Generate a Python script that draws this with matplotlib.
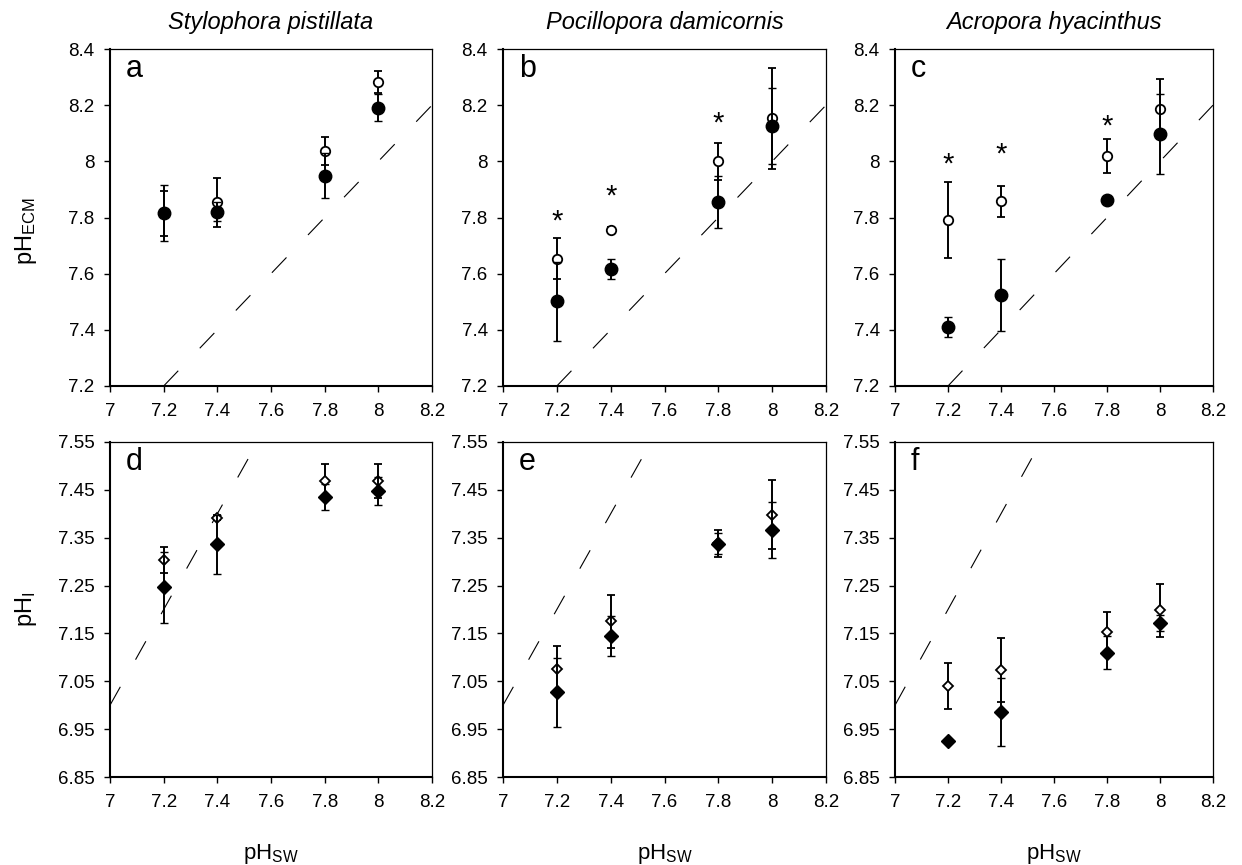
import matplotlib
matplotlib.use("Agg")
import matplotlib.pyplot as plt
from matplotlib.ticker import FixedLocator, FuncFormatter

plt.rcParams['font.family'] = ['Liberation Sans', 'DejaVu Sans']
plt.rcParams['mathtext.default'] = 'regular'

# ── data ────────────────────────────────────────────────────────────────────
SPECIES = ["Stylophora pistillata", "Pocillopora damicornis", "Acropora hyacinthus"]
PH_SW = [7.2, 7.4, 7.8, 8.0]

# top row: pH of the ECM (open / filled symbols), symmetric error bars
ECM_OPEN = [[7.815, 7.854, 8.037, 8.282],
            [7.654, 7.757, 8.000, 8.153],
            [7.791, 7.857, 8.019, 8.186]]
ECM_OPEN_ERR = [[0.080, 0.088, 0.050, 0.040],
                [0.074, 0.010, 0.066, 0.180],
                [0.134, 0.055, 0.062, 0.107]]
ECM_FILL = [[7.817, 7.821, 7.949, 8.191],
            [7.501, 7.617, 7.855, 8.125],
            [7.411, 7.524, 7.862, 8.098]]
ECM_FILL_ERR = [[0.100, 0.035, 0.081, 0.048],
                [0.142, 0.037, 0.092, 0.136],
                [0.036, 0.128, 0.000, 0.143]]
# significance asterisks (x, y) per panel
ECM_STAR_X = [[], [7.2, 7.4, 7.8], [7.2, 7.4, 7.8]]
ECM_STAR_Y = [[], [7.81, 7.90, 8.16], [8.014, 8.049, 8.15]]

# bottom row: intracellular pH
PHI_OPEN = [[7.304, 7.392, 7.468, 7.468],
            [7.076, 7.175, 7.338, 7.398],
            [7.041, 7.073, 7.153, 7.198]]
PHI_OPEN_ERR = [[0.027, 0.005, 0.035, 0.035],
                [0.048, 0.055, 0.029, 0.072],
                [0.048, 0.067, 0.041, 0.055]]
PHI_FILL = [[7.246, 7.336, 7.435, 7.448],
            [7.027, 7.145, 7.337, 7.366],
            [6.925, 6.986, 7.110, 7.172]]
PHI_FILL_ERR = [[0.074, 0.061, 0.027, 0.029],
                [0.072, 0.042, 0.022, 0.058],
                [0.003, 0.071, 0.034, 0.016]]

X_TICKS = [7.0, 7.2, 7.4, 7.6, 7.8, 8.0, 8.2]
ECM_TICKS = [7.2, 7.4, 7.6, 7.8, 8.0, 8.2, 8.4]
PHI_TICKS = [6.85, 6.95, 7.05, 7.15, 7.25, 7.35, 7.45, 7.55]
LETTERS = ["a", "b", "c", "d", "e", "f"]

# ── layout (pixel boxes of the original, converted to figure fractions) ─────
W, H = 1242, 865
COLS = [(110, 432), (503, 826), (895, 1213)]
ROWS = [(49, 386), (442, 777)]

fig = plt.figure(figsize=(W / 100, H / 100), dpi=100)


def style_axes(ax, yticks, yfmt):
    ax.set_xlim(X_TICKS[0], X_TICKS[-1])
    ax.set_ylim(yticks[0], yticks[-1])
    ax.xaxis.set_major_locator(FixedLocator(X_TICKS))
    ax.yaxis.set_major_locator(FixedLocator(yticks))
    ax.xaxis.set_major_formatter(FuncFormatter(lambda v, p: f"{v:g}"))
    ax.yaxis.set_major_formatter(FuncFormatter(lambda v, p: yfmt.format(v) if yfmt else f"{v:g}"))
    ax.tick_params(direction="out", length=4, width=1.0, labelsize=13.5,
                   top=False, right=False)
    ax.tick_params(axis="x", pad=8)
    ax.tick_params(axis="y", pad=7)
    for s in ("left", "bottom"):
        ax.spines[s].set_linewidth(1.5)
    for s in ("top", "right"):
        ax.spines[s].set_linewidth(0.9)


def identity_line(ax):
    lo = max(ax.get_xlim()[0], ax.get_ylim()[0])
    hi = min(ax.get_xlim()[1], ax.get_ylim()[1])
    ax.plot([lo, hi], [lo, hi], color="black", lw=0.8,
            linestyle=(0, (19, 28)), zorder=1)


def draw_points(ax, y_open, e_open, y_fill, e_fill, marker, ms_open, ms_fill):
    ax.errorbar(PH_SW, y_open, yerr=e_open, fmt=marker, ms=ms_open,
                mfc="white", mec="black", mew=1.3, ecolor="black",
                elinewidth=1.4, capsize=3, capthick=1.4, zorder=3)
    ax.errorbar(PH_SW, y_fill, yerr=e_fill, fmt=marker, ms=ms_fill,
                mfc="black", mec="black", mew=1.0, ecolor="black",
                elinewidth=1.4, capsize=3, capthick=1.4, zorder=4)


for row in range(2):
    for col in range(3):
        x0, x1 = COLS[col]
        y0, y1 = ROWS[row]
        ax = fig.add_axes([x0 / W, 1 - y1 / H, (x1 - x0) / W, (y1 - y0) / H])
        if row == 0:
            style_axes(ax, ECM_TICKS, None)
            identity_line(ax)
            draw_points(ax, ECM_OPEN[col], ECM_OPEN_ERR[col],
                        ECM_FILL[col], ECM_FILL_ERR[col], "o", 6.8, 9.0)
            for sx, sy in zip(ECM_STAR_X[col], ECM_STAR_Y[col]):
                ax.annotate("*", (sx, sy), xytext=(0, -11), textcoords="offset points",
                            ha="center", va="baseline", fontsize=21)
            ax.text(0.5, 1 + 20 / (y1 - y0), SPECIES[col], transform=ax.transAxes,
                    ha="center", va="baseline", fontsize=17, style="italic")
            if col == 0:
                ax.set_ylabel(r"pH$_{ECM}$", fontsize=17)
                ax.yaxis.set_label_coords(-0.22, 0.46)
        else:
            style_axes(ax, PHI_TICKS, "{:.2f}")
            identity_line(ax)
            draw_points(ax, PHI_OPEN[col], PHI_OPEN_ERR[col],
                        PHI_FILL[col], PHI_FILL_ERR[col], "D", 5.3, 6.8)
            ax.text(0.5, -(859 - y1) / (y1 - y0), r"pH$_{SW}$", transform=ax.transAxes,
                    ha="center", va="baseline", fontsize=16)
            if col == 0:
                ax.set_ylabel(r"pH$_{I}$", fontsize=17)
                ax.yaxis.set_label_coords(-0.22, 0.5)
        ax.text(0.05, 0.917, LETTERS[row * 3 + col], transform=ax.transAxes,
                ha="left", va="baseline", fontsize=22)

fig.savefig("out.png", dpi=100)
